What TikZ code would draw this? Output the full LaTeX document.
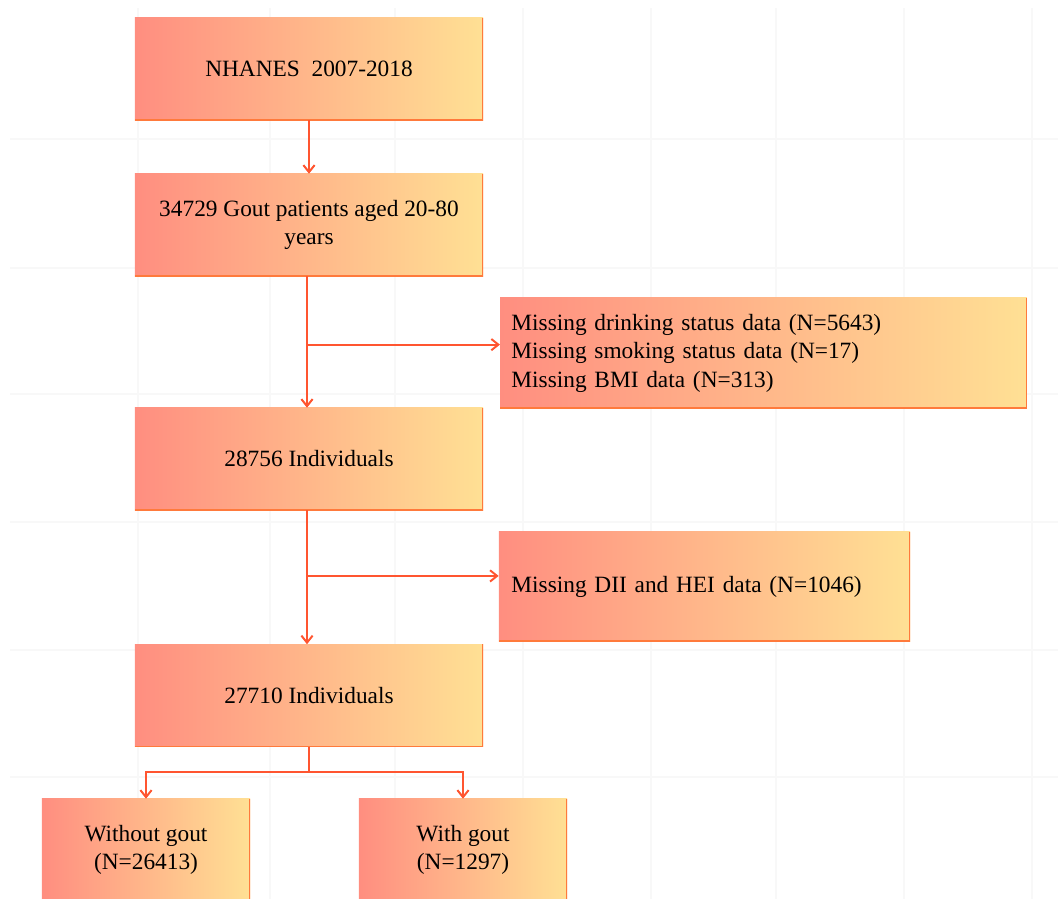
\documentclass[tikz,border=0pt]{standalone}
\usepackage{fontspec}
\setmainfont{Liberation Serif}
\usepackage{xcolor}
\usetikzlibrary{positioning,calc,arrows.meta}

\definecolor{boxleft}{HTML}{FF8E80}
\definecolor{boxmid}{HTML}{FFC590}
\definecolor{boxright}{HTML}{FFE094}
\definecolor{boxedge}{HTML}{FF7A3C}
\definecolor{flowline}{HTML}{FF5530}
\definecolor{gridline}{HTML}{F8F8F8}

\tikzset{
    flowbox/.style={rectangle, inner sep=0pt, minimum width=8.7cm, minimum height=2.55cm,
        left color=boxleft, middle color=boxmid, right color=boxright,
        font=\fontsize{16.6}{20.3}\selectfont, align=center,
        path picture={\draw[boxedge, line width=1.4pt]
            (path picture bounding box.south west) -- (path picture bounding box.south east)
            -- (path picture bounding box.north east);}},
    exclbox/.style={flowbox, align=left, text width=12.6cm, inner xsep=0.28cm},
    flowarrow/.style={draw=flowline, line width=1.4pt, -{Straight Barb[length=5pt, width=8pt]}},
    flowlink/.style={draw=flowline, line width=1.4pt}
}

\begin{document}
\begin{tikzpicture}[x=0.025cm, y=-0.025cm]
    \useasboundingbox (0,0) rectangle (1058,899);

    % Faint background grid
    \foreach \gx in {138, 270, 395, 523, 651, 776, 904, 1032} {
        \draw [gridline, line width=2pt] (\gx, 8) -- (\gx, 899);
    }
    \foreach \gy in {139, 268, 394, 522, 650, 777} {
        \draw [gridline, line width=2pt] (10, \gy) -- (1058, \gy);
    }

    % Main column
    \node [flowbox] (nhanes) at (309, 69) {NHANES\ \ 2007-2018};
    \node [flowbox] (aged) at (309, 225) {34729 Gout patients aged 20-80\\years};
    \node [flowbox] (indiv1) at (309, 459) {28756 Individuals};
    \node [flowbox] (indiv2) at (309, 695.5) {27710 Individuals};

    % Exclusions
    \node [exclbox, minimum height=2.75cm] (miss1) at (763.5, 353)
        {Missing drinking status data (N=5643)\\Missing smoking status data (N=17)\\Missing BMI data (N=313)};
    \node [exclbox, text width=9.65cm, minimum width=10.275cm, minimum height=2.725cm] (miss2) at (704.5, 586.5)
        {Missing DII and HEI data (N=1046)};

    % Groups
    \node [flowbox, minimum width=5.2cm] (nogout) at (146, 850) {Without gout\\(N=26413)};
    \node [flowbox, minimum width=5.2cm] (gout) at (463, 850) {With gout\\(N=1297)};

    % Connectors
    \draw [flowarrow] (nhanes.south) -- (aged.north);

    \coordinate (split1) at ($(aged.south)+(-2,0)$);
    \coordinate (join1) at ($(indiv1.north)+(-2,0)$);
    \draw [flowarrow] (split1) -- (join1);
    \coordinate (branch1) at ($(split1)!0.52!(join1)$);
    \draw [flowarrow] (branch1) -- (branch1 -| miss1.west);

    \coordinate (split2) at ($(indiv1.south)+(-2,0)$);
    \coordinate (join2) at ($(indiv2.north)+(-2,0)$);
    \draw [flowarrow] (split2) -- (join2);
    \coordinate (branch2) at ($(split2)!0.49!(join2)$);
    \draw [flowarrow] (branch2) -- (branch2 -| miss2.west);

    \coordinate (fork) at ($(indiv2.south)+(0,25)$);
    \draw [flowlink] (indiv2.south) -- (fork);
    \draw [flowarrow] (fork) -| (nogout.north);
    \draw [flowarrow] (fork) -| (gout.north);
\end{tikzpicture}
\end{document}
